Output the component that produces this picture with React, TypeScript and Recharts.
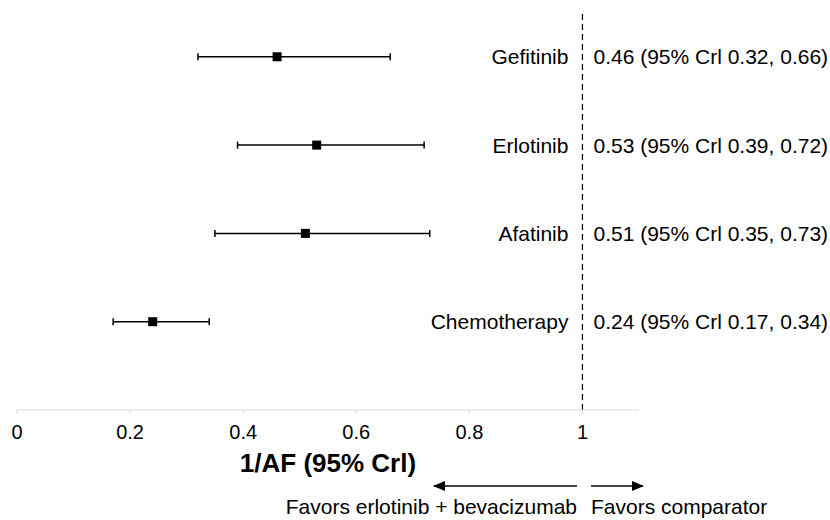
import {
  ComposedChart,
  Scatter,
  ErrorBar,
  XAxis,
  YAxis,
  ZAxis,
  ReferenceLine,
} from "recharts";

const treatments = ["Gefitinib", "Erlotinib", "Afatinib", "Chemotherapy"];
const estimates = [0.46, 0.53, 0.51, 0.24];
const lowers = [0.32, 0.39, 0.35, 0.17];
const uppers = [0.66, 0.72, 0.73, 0.34];
const rows = [4, 3, 2, 1];
const xTicks = [0, 0.2, 0.4, 0.6, 0.8, 1];
const noEffect = 1;

const font = "'Liberation Sans', Arial, sans-serif";

const points = treatments.map((name, i) => ({
  name,
  x: estimates[i],
  row: rows[i],
  err: [estimates[i] - lowers[i], uppers[i] - estimates[i]],
  text: `${estimates[i].toFixed(2)} (95% Crl ${lowers[i].toFixed(2)}, ${uppers[i].toFixed(2)})`,
}));

// label rows anchored at the no-effect line
const labelPoints = points.map((p) => ({ ...p, x: noEffect }));

const LabelShape = (props: any) => {
  const { cx, cy, payload } = props;
  return (
    <g fontFamily={font} fontSize={21} fill="#000">
      <text x={cx - 14} y={cy} textAnchor="end" dominantBaseline="central">
        {payload.name}
      </text>
      <text x={cx + 11} y={cy} textAnchor="start" dominantBaseline="central">
        {payload.text}
      </text>
    </g>
  );
};

const Square = (props: any) => {
  const { cx, cy } = props;
  return <rect x={cx - 4.5} y={cy - 4.5} width={9} height={9} fill="#000" />;
};

export default function App() {
  return (
    <div style={{ position: "absolute", left: 0, top: 0, width: 830, height: 520, background: "#fff", overflow: "hidden" }}>
      <ComposedChart
        width={830}
        height={520}
        margin={{ top: 0, right: 191, left: 17, bottom: 80 }}
      >
        <XAxis
          type="number"
          dataKey="x"
          domain={[0, 1.1]}
          ticks={xTicks}
          height={30}
          stroke="#d9d9d9"
          tickSize={4}
          tickMargin={11}
          tick={{ fill: "#000", fontSize: 20, fontFamily: font }}
        />
        <YAxis type="number" dataKey="row" domain={[0, 4.643]} hide />
        <ZAxis range={[81, 81]} />
        <ReferenceLine
          segment={[
            { x: noEffect, y: 0 },
            { x: noEffect, y: 4.5 },
          ]}
          stroke="#000"
          strokeWidth={1.2}
          strokeDasharray="6 4"
        />
        <Scatter data={points} shape={<Square />} isAnimationActive={false}>
          <ErrorBar dataKey="err" direction="x" width={3.5} stroke="#000" strokeWidth={1.5} />
        </Scatter>
        <Scatter data={labelPoints} shape={<LabelShape />} isAnimationActive={false} />
      </ComposedChart>
      <div
        style={{
          position: "absolute",
          left: 0,
          top: 447,
          width: 656,
          textAlign: "center",
          fontFamily: font,
          fontWeight: "bold",
          fontSize: 26,
          lineHeight: "32px",
          color: "#000",
        }}
      >
        1/AF (95% Crl)
      </div>
      <svg width={830} height={520} style={{ position: "absolute", left: 0, top: 0, pointerEvents: "none" }}>
        <defs>
          <marker id="ah" markerWidth="12" markerHeight="10" refX="11" refY="5" orient="auto" markerUnits="userSpaceOnUse">
            <path d="M0,0 L12,5 L0,10 z" fill="#000" />
          </marker>
        </defs>
        <line x1={577} y1={486} x2={434} y2={486} stroke="#000" strokeWidth={1.5} markerEnd="url(#ah)" />
        <line x1={591} y1={486} x2={643} y2={486} stroke="#000" strokeWidth={1.5} markerEnd="url(#ah)" />
        <g fontFamily={font} fontSize={21} fill="#000">
          <text x={577} y={514} textAnchor="end">Favors erlotinib + bevacizumab</text>
          <text x={591} y={514} textAnchor="start">Favors comparator</text>
        </g>
      </svg>
    </div>
  );
}
